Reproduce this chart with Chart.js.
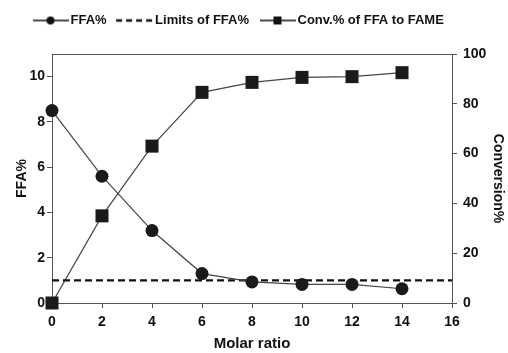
<!DOCTYPE html>
<html>
<head>
<meta charset="utf-8">
<script src="https://cdn.jsdelivr.net/npm/chart.js@4"></script>
<style>
html,body{margin:0;padding:0;background:#fff;}
#wrap{width:508px;height:353px;position:relative;}
</style>
</head>
<body>
<div id="wrap"><canvas id="chart" width="508" height="353"></canvas></div>
<script>
const molarRatio=[0,2,4,6,8,10,12,14];
const ffa=[8.5,5.6,3.2,1.3,0.93,0.82,0.82,0.63];
const conversion=[0,35,63,84.6,88.6,90.6,90.9,92.5];
const limitX=[0,16];
const limitFFA=1;

const xTicks=[0,2,4,6,8,10,12,14,16];
const ffaTicks=[0,2,4,6,8,10];
const convTicks=[0,20,40,60,80,100];

const FONT="'Liberation Sans', Arial, sans-serif";
const LINE="#444";
const MARK="#1a1a1a";

// legend icons: line with marker in the middle
function icon(kind){
  const c=document.createElement("canvas");
  c.width=kind==="dash"?40:36;c.height=12;
  const g=c.getContext("2d");
  g.strokeStyle="#111";
  if(kind==="dash"){
    g.lineWidth=2.4;
    g.setLineDash([6,4]);
    g.beginPath();g.moveTo(1,6);g.lineTo(40,6);g.stroke();
    return c;
  }
  g.lineWidth=1.3;
  g.beginPath();g.moveTo(0,6);g.lineTo(36,6);g.stroke();
  g.fillStyle="#111";
  if(kind==="circle"){g.beginPath();g.arc(18,6,4,0,Math.PI*2);g.fill();}
  else g.fillRect(14,2,8,8);
  return c;
}

const frame={
  id:"frame",
  beforeInit(chart){
    const fit=chart.legend.fit;
    chart.legend.fit=function(){fit.call(this);this.height=54;};
  },
  afterLayout(chart){
    chart.legend.left+=22;
    chart.legend.top-=1;
  },
  afterDraw(chart){
    const a=chart.chartArea,ctx=chart.ctx;
    ctx.save();
    ctx.strokeStyle="#555";ctx.lineWidth=1;
    ctx.beginPath();
    ctx.moveTo(a.left,a.top+0.5);ctx.lineTo(a.right,a.top+0.5);
    ctx.stroke();
    ctx.restore();
  }
};

new Chart(document.getElementById("chart"),{
  type:"line",
  data:{
    datasets:[
      {
        label:"FFA%",
        data:molarRatio.map((x,i)=>({x:x,y:ffa[i]})),
        yAxisID:"y",
        borderColor:LINE,borderWidth:1.2,
        pointStyle:"circle",pointRadius:6.5,
        pointBackgroundColor:MARK,pointBorderColor:MARK,pointBorderWidth:0,
        legendIcon:icon("circle")
      },
      {
        label:"Limits of FFA%",
        data:limitX.map(x=>({x:x,y:limitFFA})),
        yAxisID:"y",
        borderColor:"#111",borderWidth:2.2,borderDash:[7,4],
        pointRadius:0,
        legendIcon:icon("dash")
      },
      {
        label:"Conv.% of FFA to FAME",
        data:molarRatio.map((x,i)=>({x:x,y:conversion[i]})),
        yAxisID:"y1",
        borderColor:LINE,borderWidth:1.2,
        pointStyle:"rect",pointRadius:9.2,
        pointBackgroundColor:MARK,pointBorderColor:MARK,pointBorderWidth:0,
        legendIcon:icon("square")
      }
    ]
  },
  options:{
    responsive:false,
    animation:false,
    clip:false,
    layout:{padding:0},
    plugins:{
      tooltip:{enabled:false},
      legend:{
        position:"top",
        align:"start",
        labels:{
          usePointStyle:true,
          pointStyleWidth:27,
          padding:15,
          color:"#111",
          font:{family:FONT,size:13,weight:"bold"},
          generateLabels(chart){
            return chart.data.datasets.map((d,i)=>({
              text:d.label,
              pointStyle:d.legendIcon,
              datasetIndex:i,
              fontColor:"#111",
              lineWidth:0,
              strokeStyle:"rgba(0,0,0,0)",
              fillStyle:"rgba(0,0,0,0)"
            }));
          }
        }
      }
    },
    scales:{
      x:{
        type:"linear",min:0,max:16,
        afterFit(s){s.height=50;},
        afterBuildTicks(s){s.ticks=xTicks.map(v=>({value:v}));},
        border:{display:true,color:"#555",width:1},
        grid:{drawOnChartArea:false,drawTicks:true,tickLength:5,color:"#555"},
        ticks:{color:"#111",padding:6,font:{family:FONT,size:14,weight:"bold"}},
        title:{display:true,text:"Molar ratio",color:"#111",padding:{top:2,bottom:0},font:{family:FONT,size:15,weight:"bold"}}
      },
      y:{
        type:"linear",position:"left",min:0,max:11,
        afterFit(s){s.width=52;},
        afterBuildTicks(s){s.ticks=ffaTicks.map(v=>({value:v}));},
        border:{display:true,color:"#555",width:1},
        grid:{drawOnChartArea:false,drawTicks:true,tickLength:5,color:"#555"},
        ticks:{color:"#111",padding:2,font:{family:FONT,size:14,weight:"bold"}},
        title:{display:true,text:"FFA%",color:"#111",padding:{top:14,bottom:0},font:{family:FONT,size:14,weight:"bold"}}
      },
      y1:{
        type:"linear",position:"right",min:0,max:100,
        afterFit(s){s.width=56;},
        afterBuildTicks(s){s.ticks=convTicks.map(v=>({value:v}));},
        border:{display:true,color:"#555",width:1},
        grid:{drawOnChartArea:false,drawTicks:true,tickLength:5,color:"#555"},
        ticks:{color:"#111",padding:6,font:{family:FONT,size:14,weight:"bold"}},
        title:{display:true,text:"Conversion%",color:"#111",padding:{top:2,bottom:0},font:{family:FONT,size:14,weight:"bold"}}
      }
    }
  },
  plugins:[frame]
});
</script>
</body>
</html>
